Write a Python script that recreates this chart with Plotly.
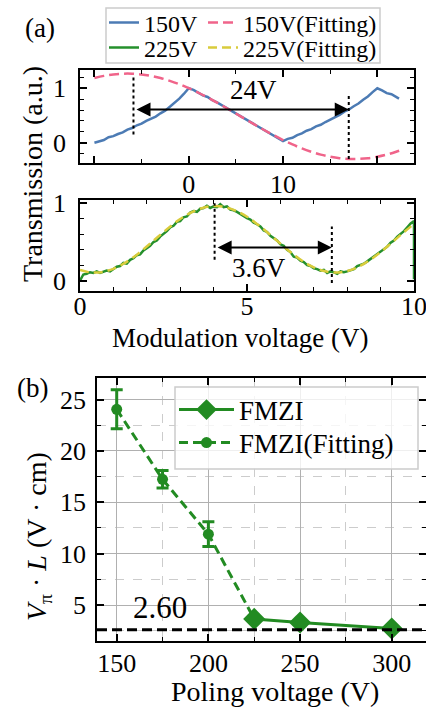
import plotly.graph_objects as go

FONT = "Liberation Serif, Times New Roman, DejaVu Serif, serif"

# ---------------- (a) upper panel: 150 V poling ----------------
v150 = [-10.0, -9.5, -9.0, -8.5, -8.0, -7.5, -7.0, -6.5, -6.0, -5.5, -5.0, -4.5, -4.0, -3.5,
        -3.0, -2.5, -2.0, -1.5, -1.0, -0.5, 0.0, 0.5, 1.0, 1.5, 2.0, 2.5, 3.0, 3.5, 4.0, 4.5,
        5.0, 5.5, 6.0, 6.5, 7.0, 7.5, 8.0, 8.5, 9.0, 9.5, 10.0, 10.5, 11.0, 11.5, 12.0, 12.5,
        13.0, 13.5, 14.0, 14.5, 15.0, 15.5, 16.0, 16.5, 17.0, 17.5, 18.0, 18.5, 19.0, 19.5,
        20.0, 20.5, 21.0, 21.5, 22.0, 22.3]
t150 = [0.00, 0.03, 0.05, 0.10, 0.12, 0.16, 0.19, 0.24, 0.27, 0.32, 0.35, 0.40, 0.44, 0.48,
        0.54, 0.59, 0.66, 0.73, 0.81, 0.90, 1.00, 0.97, 0.92, 0.87, 0.84, 0.78, 0.74, 0.69,
        0.63, 0.59, 0.53, 0.49, 0.43, 0.39, 0.33, 0.28, 0.24, 0.18, 0.14, 0.08, 0.03, 0.07,
        0.09, 0.14, 0.17, 0.22, 0.25, 0.30, 0.33, 0.38, 0.42, 0.47, 0.51, 0.57, 0.61, 0.67,
        0.72, 0.79, 0.85, 0.93, 1.00, 0.96, 0.91, 0.89, 0.84, 0.81]

v150_fit = [-10, -9, -8, -7, -6, -5, -4, -3, -2, -1, 0, 1, 2, 3, 4, 5, 6, 7, 8, 9, 10,
            11, 12, 13, 14, 15, 16, 17, 18, 19, 20, 21, 22, 22.5]
t150_fit = [1.189, 1.228, 1.255, 1.268, 1.268, 1.255, 1.228, 1.189, 1.137, 1.075, 1.002,
            0.921, 0.832, 0.737, 0.638, 0.536, 0.434, 0.332, 0.233, 0.138, 0.049, -0.032,
            -0.105, -0.167, -0.219, -0.258, -0.285, -0.298, -0.298, -0.285, -0.258, -0.219,
            -0.167, -0.138]

# ---------------- (a) lower panel: 225 V poling ----------------
v225 = [0.0, 0.1, 0.2, 0.3, 0.4, 0.5, 0.6, 0.7, 0.8, 0.9, 1.0, 1.1, 1.2, 1.3, 1.4, 1.5, 1.6,
        1.7, 1.8, 1.9, 2.0, 2.1, 2.2, 2.3, 2.4, 2.5, 2.6, 2.7, 2.8, 2.9, 3.0, 3.1, 3.2, 3.3,
        3.4, 3.5, 3.6, 3.7, 3.8, 3.9, 4.0, 4.1, 4.2, 4.3, 4.4, 4.5, 4.6, 4.7, 4.8, 4.9, 5.0,
        5.1, 5.2, 5.3, 5.4, 5.5, 5.6, 5.7, 5.8, 5.9, 6.0, 6.1, 6.2, 6.3, 6.4, 6.5, 6.6, 6.7,
        6.8, 6.9, 7.0, 7.1, 7.2, 7.3, 7.4, 7.5, 7.6, 7.7, 7.8, 7.9, 8.0, 8.1, 8.2, 8.3, 8.4,
        8.5, 8.6, 8.7, 8.8, 8.9, 9.0, 9.1, 9.2, 9.3, 9.4, 9.5, 9.6, 9.7, 9.8, 9.9, 10.0, 10.0]
t225 = [0.00, 0.08, 0.09, 0.11, 0.10, 0.12, 0.10, 0.12, 0.13, 0.12, 0.15, 0.18, 0.19, 0.23,
        0.22, 0.27, 0.29, 0.33, 0.34, 0.39, 0.42, 0.45, 0.50, 0.52, 0.57, 0.60, 0.64, 0.69,
        0.71, 0.76, 0.77, 0.82, 0.83, 0.88, 0.90, 0.89, 0.93, 0.94, 0.97, 0.94, 0.96, 0.95,
        0.99, 0.95, 0.96, 0.92, 0.91, 0.89, 0.86, 0.84, 0.81, 0.79, 0.75, 0.73, 0.70, 0.65,
        0.63, 0.58, 0.55, 0.52, 0.47, 0.45, 0.40, 0.37, 0.31, 0.30, 0.26, 0.24, 0.20, 0.19,
        0.16, 0.15, 0.13, 0.14, 0.10, 0.12, 0.11, 0.09, 0.12, 0.11, 0.12, 0.14, 0.15, 0.19,
        0.20, 0.22, 0.25, 0.28, 0.31, 0.34, 0.38, 0.41, 0.44, 0.49, 0.52, 0.57, 0.60, 0.64,
        0.69, 0.74, 0.77, 0.02]

v225_fit = [0.0, 0.25, 0.5, 0.75, 1.0, 1.25, 1.5, 1.75, 2.0, 2.25, 2.5, 2.75, 3.0, 3.25, 3.5,
            3.75, 4.0, 4.25, 4.5, 4.75, 5.0, 5.25, 5.5, 5.75, 6.0, 6.25, 6.5, 6.75, 7.0, 7.25,
            7.5, 7.75, 8.0, 8.25, 8.5, 8.75, 9.0, 9.25, 9.5, 9.75, 10.0]
t225_fit = [0.138, 0.111, 0.105, 0.120, 0.154, 0.206, 0.273, 0.353, 0.442, 0.535, 0.628,
            0.717, 0.797, 0.864, 0.916, 0.950, 0.965, 0.959, 0.932, 0.887, 0.826, 0.750,
            0.664, 0.572, 0.479, 0.388, 0.304, 0.231, 0.172, 0.131, 0.109, 0.106, 0.125,
            0.163, 0.218, 0.288, 0.370, 0.460, 0.554, 0.646, 0.734]

# half-period markers
vpi150_marks = [-5.86, 16.97]
vpi225_marks = [4.03, 7.54]
label150 = "24V"
label225 = "3.6V"

# ---------------- (b) V_pi*L vs poling voltage ----------------
poling_fmzi = [225, 250, 300]
vpil_fmzi = [3.65, 3.30, 2.72]
poling_fit = [150, 175, 200, 225]
vpil_fit = [24.05, 17.24, 11.9, 3.65]
vpil_fit_err = [1.9, 0.85, 1.2, 0.0]
best_vpil = 2.60

BLUE = "#4c7bb4"
PINK = "#f0648a"
GREEN = "#25902c"
YELLOW = "#d9cc3c"
GREEN_B = "#228B22"

fig = go.Figure()

fig.add_trace(go.Scatter(x=v150, y=t150, mode="lines", name="150V",
                         line=dict(color=BLUE, width=2.5),
                         legend="legend", xaxis="x", yaxis="y"))
fig.add_trace(go.Scatter(x=v150_fit, y=t150_fit, mode="lines", name="150V(Fitting)",
                         line=dict(color=PINK, width=2.5, dash="10px,5px", shape="spline"),
                         legend="legend", xaxis="x", yaxis="y"))
fig.add_trace(go.Scatter(x=v225, y=t225, mode="lines", name="225V",
                         line=dict(color=GREEN, width=2.5),
                         legend="legend3", xaxis="x2", yaxis="y2"))
fig.add_trace(go.Scatter(x=v225_fit, y=t225_fit, mode="lines", name="225V(Fitting)",
                         line=dict(color=YELLOW, width=2.5, dash="9px,5px", shape="spline"),
                         legend="legend3", xaxis="x2", yaxis="y2"))

fig.add_trace(go.Scatter(x=poling_fit, y=vpil_fit, mode="lines+markers", name="FMZI(Fitting)",
                         line=dict(color=GREEN_B, width=3, dash="9px,5px"),
                         marker=dict(symbol="circle", size=11, color=GREEN_B),
                         error_y=dict(type="data", array=vpil_fit_err, color=GREEN_B,
                                      thickness=3, width=6),
                         legend="legend4", xaxis="x3", yaxis="y3"))
fig.add_trace(go.Scatter(x=poling_fmzi, y=vpil_fmzi, mode="lines+markers", name="FMZI",
                         line=dict(color=GREEN_B, width=3),
                         marker=dict(symbol="diamond", size=17, color=GREEN_B),
                         legend="legend2", xaxis="x3", yaxis="y3"))


def axis(**kw):
    base = dict(showline=True, linecolor="black", linewidth=1.5, mirror="ticks",
                ticks="inside", ticklen=7, tickwidth=1.5, tickcolor="black",
                zeroline=False, showgrid=False, automargin=False,
                ticklabeloverflow="allow",
                tickfont=dict(family=FONT, size=26, color="black"))
    base.update(kw)
    return base


def minor(dtick, grid=False):
    m = dict(ticks="inside", ticklen=4, tickwidth=1.2, tickcolor="black", dtick=dtick,
             tick0=0, showgrid=grid)
    if grid:
        m.update(gridcolor="#cccccc", griddash="dash", gridwidth=1)
    return m


W, H = 426, 709
xa = [80 / W, 414 / W]


def px_y(py):
    return 1 - py / H


def leg(x, y, size, **kw):
    d = dict(x=x / W, y=px_y(y), xanchor="left", yanchor="middle",
             bgcolor="rgba(0,0,0,0)", borderwidth=0,
             font=dict(family=FONT, size=size, color="black"))
    d.update(kw)
    return d


fig.update_layout(
    template="none",
    width=W, height=H, margin=dict(l=0, r=0, t=0, b=0, pad=0, autoexpand=False),
    paper_bgcolor="white", plot_bgcolor="white",
    font=dict(family=FONT, color="black"),
    xaxis=axis(domain=xa, range=[-11.53, 23.89], anchor="y",
               tickmode="array", tickvals=[-10, 0, 10, 20], ticktext=["", "0", "10", ""],
               minor=minor(5), ticklabelstandoff=-3),
    yaxis=axis(domain=[px_y(163), px_y(70)], range=[-0.373, 1.336], anchor="x",
               tickmode="array", tickvals=[0, 1], minor=minor(0.2), ticklabelstandoff=7),
    xaxis2=axis(domain=xa, range=[0, 10], anchor="y2",
                tickmode="array", tickvals=[0, 5, 10], minor=minor(1), ticklabelstandoff=-9),
    yaxis2=axis(domain=[px_y(291), px_y(200)], range=[-0.133, 1.043], anchor="x2",
                tickmode="array", tickvals=[0, 1], minor=minor(0.2), ticklabelstandoff=7),
    xaxis3=axis(domain=[97 / W, 1.0], range=[139.25, 318.7], anchor="y3",
                tickmode="array", tickvals=[150, 200, 250, 300], ticklabelstandoff=-2,
                showgrid=True, gridcolor="#b0b0b0", gridwidth=1, minor=minor(25, True)),
    yaxis3=axis(domain=[px_y(641), px_y(378)], range=[1.5, 27.1], anchor="x3",
                tickmode="array", tickvals=[5, 10, 15, 20, 25], ticklabelstandoff=4,
                showgrid=True, gridcolor="#b0b0b0", gridwidth=1, minor=minor(2.5, True)),
    legend=leg(104, 23, 24, orientation="h"),
    legend3=leg(104, 48, 24, orientation="h"),
    legend2=leg(174, 410, 27, itemwidth=55),
    legend4=leg(174, 443, 27, itemwidth=55),
)

shapes = [
    # legend frames
    dict(type="rect", xref="paper", yref="paper", x0=106 / W, x1=380 / W,
         y0=px_y(63), y1=px_y(8), fillcolor="rgba(255,255,255,0.8)",
         line=dict(color="#cccccc", width=1.5), layer="above"),
    dict(type="rect", xref="paper", yref="paper", x0=175 / W, x1=418 / W,
         y0=px_y(469), y1=px_y(387), fillcolor="rgba(255,255,255,0.8)",
         line=dict(color="#cccccc", width=1.5), layer="above"),
    dict(type="line", xref="x", yref="y", x0=vpi150_marks[0], x1=vpi150_marks[0],
         y0=0.15, y1=1.2, line=dict(color="black", width=2, dash="dot")),
    dict(type="line", xref="x", yref="y", x0=vpi150_marks[1], x1=vpi150_marks[1],
         y0=-0.30, y1=0.90, line=dict(color="black", width=2, dash="dot")),
    dict(type="line", xref="x2", yref="y2", x0=vpi225_marks[0], x1=vpi225_marks[0],
         y0=0.27, y1=1.0, line=dict(color="black", width=2, dash="dot")),
    dict(type="line", xref="x2", yref="y2", x0=vpi225_marks[1], x1=vpi225_marks[1],
         y0=-0.03, y1=0.70, line=dict(color="black", width=2, dash="dot")),
    dict(type="line", xref="x3 domain", yref="y3", x0=0, x1=1, y0=best_vpil, y1=best_vpil,
         line=dict(color="black", width=3, dash="10px,5px")),
]

arrow = dict(showarrow=True, arrowhead=2, startarrowhead=2, arrowside="end+start",
             arrowsize=1.4, startarrowsize=1.4, arrowwidth=2, arrowcolor="black", text=" ")


def label(x, y, text, size, xref="paper", yref="paper", **kw):
    d = dict(x=x, y=y, xref=xref, yref=yref, text=text, showarrow=False,
             xanchor="center", yanchor="middle", borderpad=0,
             font=dict(family=FONT, size=size, color="black"))
    d.update(kw)
    return d


annotations = [
    dict(x=vpi150_marks[1], y=0.61, ax=vpi150_marks[0], ay=0.61, xref="x", yref="y",
         axref="x", ayref="y", **arrow),
    dict(x=vpi225_marks[1], y=0.43, ax=vpi225_marks[0], ay=0.43, xref="x2", yref="y2",
         axref="x2", ayref="y2", **arrow),
    label(6.84, 0.96, label150, 27, "x", "y"),
    label(5.37, 0.16, label225, 27, "x2", "y2"),
    label(173.4, 4.8, f"{best_vpil:.2f}", 31, "x3", "y3"),
    label(40 / W, px_y(28), "(a)", 27),
    label(32 / W, px_y(388), "(b)", 27),
    label(32 / W, px_y(174), "Transmission (a.u.)", 28, textangle=-90),
    label(240 / W, px_y(338), "Modulation voltage (V)", 27),
    label(38 / W, px_y(537), "<i>V</i><sub>π</sub> · <i>L</i> (V · cm)", 28, textangle=-90),
    label(275 / W, px_y(691), "Poling voltage (V)", 28),
]
fig.update_layout(shapes=shapes, annotations=annotations)

fig.write_html("out.html", config={"displayModeBar": False},
               post_script="document.body.style.margin='0px';")
